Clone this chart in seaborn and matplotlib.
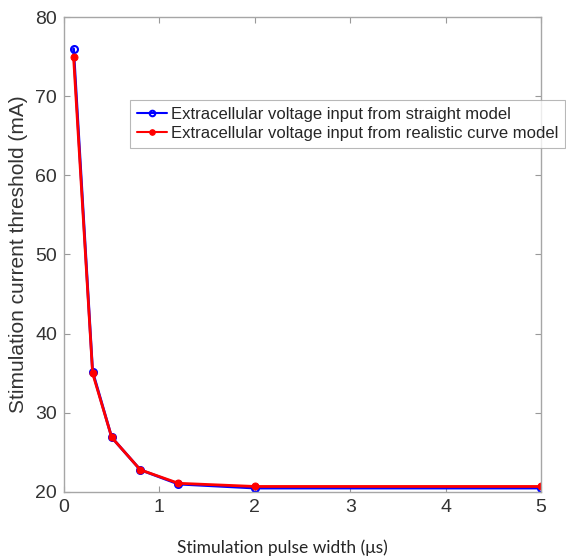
import matplotlib
matplotlib.use("Agg")
import matplotlib.pyplot as plt
import seaborn as sns
import pandas as pd

pulse_width = [0.1, 0.3, 0.5, 0.8, 1.2, 2, 5]
straight = [76.0, 35.2, 26.9, 22.8, 21.0, 20.5, 20.5]
realistic = [75.0, 35.0, 26.9, 22.8, 21.1, 20.7, 20.7]
labels = ["Extracellular voltage input from straight model",
          "Extracellular voltage input from realistic curve model"]
x_ticks = [0, 1, 2, 3, 4, 5]
y_ticks = [20, 30, 40, 50, 60, 70, 80]

sns.set_theme(style="white")
plt.rcParams['font.family'] = ['Liberation Sans', 'DejaVu Sans']

fig = plt.figure(figsize=(5.66, 5.6), dpi=100)
ax = fig.add_axes([64/566, 1-492/560, (541-64)/566, (492-17)/560])

df1 = pd.DataFrame({"x": pulse_width, "y": straight})
df2 = pd.DataFrame({"x": pulse_width, "y": realistic})

sns.lineplot(data=df1, x="x", y="y", ax=ax, color="#0000ff", lw=2,
             marker="o", markersize=5, markerfacecolor="none",
             markeredgecolor="#0000ff", markeredgewidth=1.5, label=labels[0])
sns.lineplot(data=df2, x="x", y="y", ax=ax, color="#ff0000", lw=2,
             marker="o", markersize=5, markerfacecolor="#ff0000",
             markeredgecolor="#ff0000", label=labels[1])

ax.set_xlim(0, 5)
ax.set_ylim(20, 80)
ax.set_xticks(x_ticks)
ax.set_yticks(y_ticks)
ax.set_xticklabels([str(t) for t in x_ticks], fontsize=14, color="#333333")
ax.set_yticklabels([str(t) for t in y_ticks], fontsize=14, color="#333333")
ax.tick_params(direction="in", length=4, width=0.8, color="#999999",
               top=True, right=True, bottom=True, left=True)
ax.tick_params(axis="x", pad=5)
ax.tick_params(axis="y", pad=5)
for s in ax.spines.values():
    s.set_color("#a6a6a6")
    s.set_linewidth(1.0)

ax.set_ylabel("Stimulation current threshold (mA)", fontsize=15, color="#333333", labelpad=5)
ax.set_xlabel("")
fig.text(282/566, 1-548/560, "Stimulation pulse width (\u03bcs)", fontsize=12.5,
         family=["Lato", "DejaVu Sans"], ha="center", va="center", color="#262626")

leg = ax.legend(loc="upper left", bbox_to_anchor=(130/566, 1-100/560),
                bbox_transform=fig.transFigure, fontsize=12.0, frameon=True,
                fancybox=False, edgecolor="#a6a6a6", handlelength=1.8,
                handletextpad=0.25, borderpad=0.4, borderaxespad=0,
                labelspacing=0.25)
leg.get_frame().set_linewidth(0.8)
for h in leg.get_lines():
    h.set_linewidth(1.5)
    h.set_markersize(4)

fig.savefig("out.png", dpi=100)
